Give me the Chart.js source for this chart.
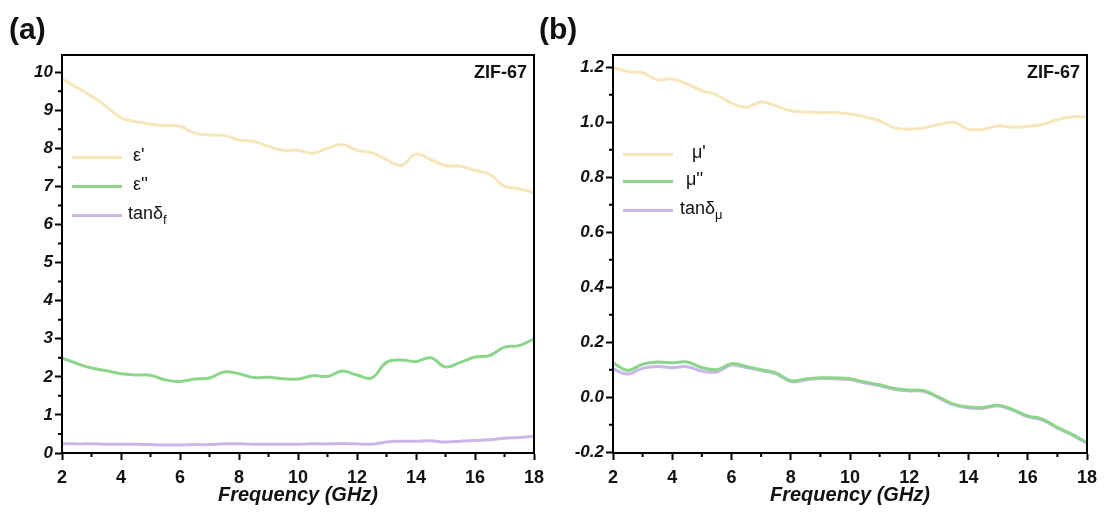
<!DOCTYPE html>
<html>
<head>
<meta charset="utf-8">
<script src="https://cdn.jsdelivr.net/npm/chart.js@4.4.1/dist/chart.umd.min.js"></script>
<style>
  body { margin: 0; background: #fff; font-family: 'Liberation Sans', Arial, sans-serif; }
  #wrap { position: relative; width: 1105px; height: 515px; overflow: hidden; }
  .panel { position: absolute; top: 0; }
  .tag { position: absolute; font-weight: bold; font-size: 30px; color: #111; }
  .sample { position: absolute; font-weight: bold; font-size: 18px; color: #111; }
  .leg { position: absolute; font-size: 18px; color: #111; white-space: nowrap; }
  .leg .ln { position: absolute; height: 3px; width: 50px; }
  .leg sub { font-size: 13px; vertical-align: -5px; line-height: 0; }
</style>
</head>
<body>
<div id="wrap">
  <div class="panel" style="left:0"><canvas id="chartA" width="552" height="515"></canvas></div>
  <div class="panel" style="left:552px"><canvas id="chartB" width="553" height="515"></canvas></div>
  <div class="tag" style="left:9px; top:12px">(a)</div>
  <div class="tag" style="left:539px; top:12px">(b)</div>
  <div class="sample" style="right:578px; top:62px">ZIF-67</div>
  <div class="sample" style="right:25px; top:62px">ZIF-67</div>
  <div id="legA"></div>
  <div id="legB"></div>
</div>
<script>
// Frecuencia (GHz)
const freq = [2, 2.5, 3, 3.5, 4, 4.5, 5, 5.5, 6, 6.5, 7, 7.5, 8, 8.5, 9, 9.5, 10,
              10.5, 11, 11.5, 12, 12.5, 13, 13.5, 14, 14.5, 15, 15.5, 16, 16.5, 17, 17.5, 18];

// Panel (a): permitividad
const epsReal = [9.82, 9.6, 9.37, 9.1, 8.8, 8.7, 8.63, 8.6, 8.58, 8.4, 8.35, 8.34, 8.22, 8.18, 8.05, 7.95, 7.95,
                 7.87, 8.0, 8.1, 7.95, 7.88, 7.7, 7.55, 7.85, 7.7, 7.55, 7.53, 7.42, 7.32, 7.0, 6.94, 6.84];
const epsImag = [2.49, 2.35, 2.23, 2.16, 2.08, 2.05, 2.04, 1.92, 1.88, 1.94, 1.97, 2.13, 2.08, 1.98, 1.99, 1.95, 1.94,
                 2.03, 2.01, 2.15, 2.05, 1.97, 2.38, 2.44, 2.4, 2.5, 2.26, 2.38, 2.52, 2.56, 2.78, 2.82, 3.0];
const tanE = [0.25, 0.24, 0.24, 0.23, 0.23, 0.23, 0.22, 0.21, 0.21, 0.22, 0.22, 0.24, 0.24, 0.23, 0.23, 0.23, 0.23,
              0.24, 0.24, 0.25, 0.24, 0.23, 0.29, 0.31, 0.31, 0.32, 0.29, 0.31, 0.33, 0.35, 0.39, 0.41, 0.44];

// Panel (b): permeabilidad
const muReal = [1.2, 1.185, 1.18, 1.155, 1.158, 1.14, 1.115, 1.1, 1.07, 1.055, 1.074, 1.06, 1.042, 1.038, 1.035, 1.036, 1.03,
                1.02, 1.005, 0.98, 0.975, 0.98, 0.992, 1.0, 0.975, 0.975, 0.987, 0.982, 0.985, 0.993, 1.01, 1.02, 1.02];
const muImag = [0.125, 0.098, 0.12, 0.128, 0.125, 0.128, 0.108, 0.1, 0.122, 0.112, 0.1, 0.088, 0.06, 0.066, 0.071, 0.07, 0.067,
                0.055, 0.045, 0.032, 0.026, 0.024, 0.0, -0.025, -0.036, -0.037, -0.029, -0.045, -0.068, -0.08, -0.11, -0.135, -0.165];
const tanM = [0.103, 0.084, 0.105, 0.112, 0.108, 0.111, 0.095, 0.092, 0.117, 0.108, 0.097, 0.085, 0.057, 0.063, 0.068, 0.067, 0.064,
              0.052, 0.042, 0.029, 0.023, 0.021, -0.003, -0.028, -0.039, -0.04, -0.032, -0.048, -0.071, -0.083, -0.113, -0.138, -0.168];

// Etiquetas de los ejes
const xTicks = [2, 4, 6, 8, 10, 12, 14, 16, 18];
const xMinor = [3, 5, 7, 9, 11, 13, 15, 17];
const yTicksA = [0, 1, 2, 3, 4, 5, 6, 7, 8, 9, 10];
const yMinorA = [0.5, 1.5, 2.5, 3.5, 4.5, 5.5, 6.5, 7.5, 8.5, 9.5];
const yTicksB = [-0.2, 0, 0.2, 0.4, 0.6, 0.8, 1.0, 1.2];
const yMinorB = [-0.1, 0.1, 0.3, 0.5, 0.7, 0.9, 1.1];

const colors = ['rgb(247,230,186)', 'rgb(140,214,140)', 'rgb(202,182,232)'];
const labelsA = ["ε'", "ε''", 'tanδ<sub>f</sub>'];
const labelsB = ["μ'", "μ''", 'tanδ<sub>μ</sub>'];

const yFont = { family: "'Liberation Sans', Arial", size: 17, weight: 'bold', style: 'italic' };
const xFont = { family: "'Liberation Sans', Arial", size: 18, weight: 'bold' };

// Marco y marcas menores
const frame = {
    id: 'frame',
    afterDraw(chart, args, opts) {
        const ctx = chart.ctx;
        const a = chart.chartArea;
        const xs = chart.scales.x;
        const ys = chart.scales.y;
        ctx.save();
        ctx.strokeStyle = '#000';
        ctx.lineWidth = 2;
        ctx.strokeRect(a.left, a.top, a.right - a.left, a.bottom - a.top);
        ctx.beginPath();
        xMinor.forEach(v => {
            const px = xs.getPixelForValue(v);
            ctx.moveTo(px, a.bottom);
            ctx.lineTo(px, a.bottom + 4);
        });
        opts.minor.forEach(v => {
            const py = ys.getPixelForValue(v);
            ctx.moveTo(a.left, py);
            ctx.lineTo(a.left - 4, py);
        });
        ctx.stroke();
        ctx.restore();
    }
};

function makeDatasets(series) {
    return series.map((vals, i) => ({
        data: freq.map((f, k) => ({ x: f, y: vals[k] })),
        borderColor: colors[i],
        borderWidth: 3,
        pointRadius: 0,
        tension: 0.4,
        fill: false
    }));
}

function makeChart(id, series, yMin, yMax, yTicks, yMinor, fmt, pad, yWidth) {
    return new Chart(document.getElementById(id), {
        type: 'line',
        data: { datasets: makeDatasets(series) },
        options: {
            responsive: false,
            animation: false,
            layout: { padding: pad },
            plugins: {
                legend: { display: false },
                tooltip: { enabled: false },
                frame: { minor: yMinor }
            },
            scales: {
                x: {
                    type: 'linear',
                    min: 2,
                    max: 18,
                    afterBuildTicks: s => { s.ticks = xTicks.map(v => ({ value: v })); },
                    afterFit: s => { s.height = 62; },
                    grid: { drawOnChartArea: false, tickLength: 7, tickWidth: 2, tickColor: '#000' },
                    border: { color: '#000', width: 2 },
                    ticks: { font: xFont, color: '#111', padding: 7, maxRotation: 0 },
                    title: {
                        display: true,
                        text: 'Frequency (GHz)',
                        color: '#111',
                        font: { family: "'Liberation Sans', Arial", size: 20, weight: 'bold', style: 'italic' },
                        padding: { top: 0, bottom: 8 }
                    }
                },
                y: {
                    min: yMin,
                    max: yMax,
                    afterBuildTicks: s => { s.ticks = yTicks.map(v => ({ value: v })); },
                    afterFit: s => { s.width = yWidth; },
                    grid: { drawOnChartArea: false, tickLength: 7, tickWidth: 2, tickColor: '#000' },
                    border: { color: '#000', width: 2 },
                    ticks: { font: yFont, color: '#111', padding: 2, callback: fmt }
                }
            }
        },
        plugins: [frame]
    });
}

// Leyenda en HTML (por los subindices)
function makeLegend(id, labels, lineX, textX, rows) {
    const box = document.getElementById(id);
    box.innerHTML = labels.map((lab, i) => `
        <div class="leg" style="left:0; top:0">
            <div class="ln" style="left:${lineX}px; top:${rows[i] - 1}px; background:${colors[i]}"></div>
            <div style="position:absolute; left:${textX[i]}px; top:${rows[i] - 12}px">${lab}</div>
        </div>`).join('');
}

makeChart('chartA', [epsReal, epsImag, tanE], 0, 10.45, yTicksA, yMinorA,
    v => String(v), { top: 55, right: 18, left: 0, bottom: 0 }, 62);
makeChart('chartB', [muReal, muImag, tanM], -0.203, 1.245, yTicksB, yMinorB,
    v => v.toFixed(1), { top: 55, right: 18, left: 0, bottom: 0 }, 61);

makeLegend('legA', labelsA, 72, [133, 133, 128], [157, 186, 215]);
makeLegend('legB', labelsB, 623, [692, 686, 680], [154, 181, 210]);
</script>
</body>
</html>
